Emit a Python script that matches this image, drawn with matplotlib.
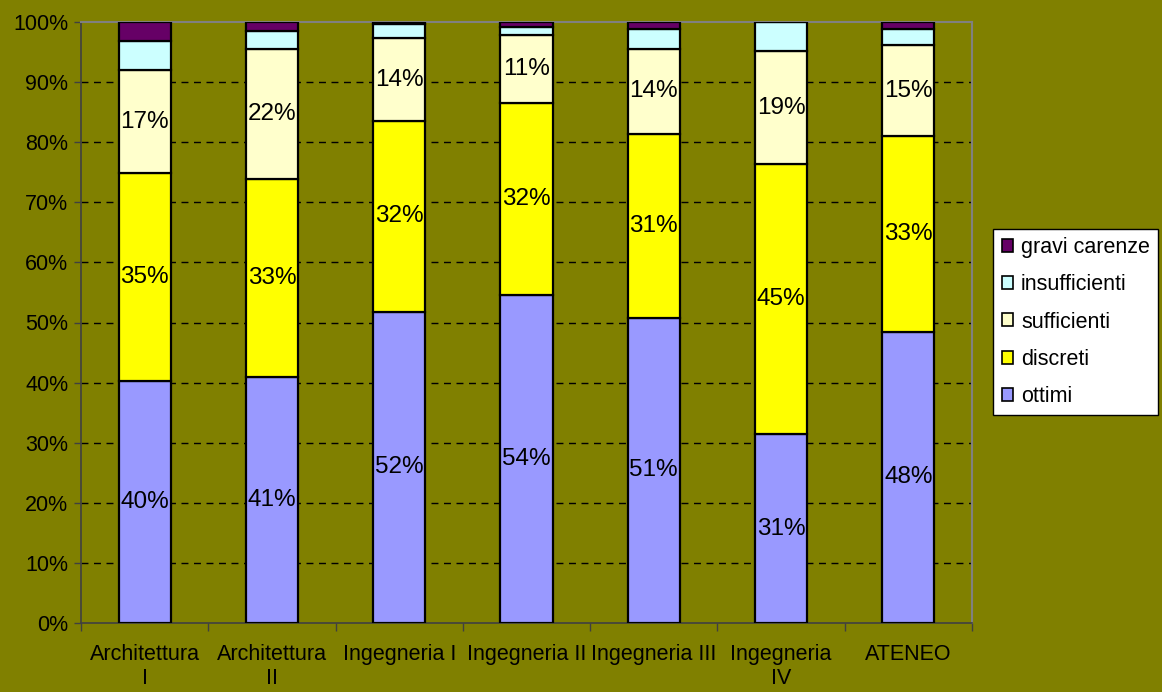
import numpy as np
import matplotlib
matplotlib.use("Agg")
import matplotlib.pyplot as plt
from matplotlib.patches import Patch

plt.rcParams["font.family"] = ["Liberation Sans", "DejaVu Sans"]

# Percentage of judgements per faculty, stacked bottom to top
faculties = [
    "Architettura\nI",
    "Architettura\nII",
    "Ingegneria I",
    "Ingegneria II",
    "Ingegneria III",
    "Ingegneria\nIV",
    "ATENEO",
]
ottimi = [40.2, 41.0, 51.8, 54.5, 50.8, 31.4, 48.5]
discreti = [34.6, 32.8, 31.7, 32.0, 30.6, 44.9, 32.6]
sufficienti = [17.2, 21.7, 13.8, 11.4, 14.1, 18.9, 15.0]
insufficienti = [4.9, 3.0, 2.4, 1.2, 3.4, 4.8, 2.8]
gravi_carenze = [3.1, 1.5, 0.3, 0.9, 1.1, 0.0, 1.1]

series = [
    ("ottimi", ottimi, "#9999FF", True),
    ("discreti", discreti, "#FFFF00", True),
    ("sufficienti", sufficienti, "#FFFFCC", True),
    ("insufficienti", insufficienti, "#CCFFFF", False),
    ("gravi carenze", gravi_carenze, "#660066", False),
]

bg = "#808000"
fs = 15.5
label_fs = 17.5

fig = plt.figure(figsize=(11.62, 6.92), dpi=100, facecolor=bg)
ax = fig.add_axes([81 / 1162, 1 - 623 / 692, (972 - 81) / 1162, (623 - 22) / 692])
ax.set_facecolor(bg)

x = np.arange(len(faculties))
bottom = np.zeros(len(faculties))
for name, vals, color, labelled in series:
    vals = np.array(vals)
    ax.bar(x, vals, width=0.41, bottom=bottom, color=color,
           edgecolor="black", linewidth=1.6, zorder=3)
    if labelled:
        for xi, b, v in zip(x, bottom, vals):
            ax.text(xi, b + v / 2, f"{v:.0f}%", ha="center", va="center",
                    fontsize=label_fs, color="black", zorder=4)
    bottom += vals

# y axis: 0-100% with dashed gridlines every 10%
ax.set_ylim(0, 100)
ax.set_yticks(np.arange(0, 101, 10))
ax.set_yticklabels([f"{v}%" for v in range(0, 101, 10)], fontsize=fs)
for v in range(10, 100, 10):
    ax.axhline(v, color="black", linewidth=1.0, dashes=(5, 4), zorder=1)

# x axis: ticks between categories, labels centred
ax.set_xlim(-0.5, len(faculties) - 0.5)
ax.set_xticks(np.arange(-0.5, len(faculties), 1.0))
ax.set_xticklabels([])
ax.set_xticks(x, minor=True)
ax.set_xticklabels(faculties, minor=True, fontsize=fs, linespacing=1.2)
ax.tick_params(axis="x", which="minor", length=0, pad=15)
ax.tick_params(axis="x", which="major", length=6, width=1, color="#404040", direction="out")
ax.tick_params(axis="y", length=5, width=1, color="#404040", direction="out", pad=4)

for side in ["left", "bottom"]:
    ax.spines[side].set_color("#404040")
    ax.spines[side].set_linewidth(1.2)
for side in ["top", "right"]:
    ax.spines[side].set_color("#808080")
    ax.spines[side].set_linewidth(1.5)

handles = [Patch(facecolor=c, edgecolor="black", linewidth=1.2, label=n)
           for n, _, c, _ in series][::-1]
leg = fig.legend(handles=handles, loc="center left",
                 bbox_to_anchor=(993 / 1162, 1 - 322 / 692),
                 fontsize=fs, frameon=True, fancybox=False, framealpha=1,
                 handlelength=0.55, handleheight=0.55, handletextpad=0.35,
                 labelspacing=0.75, borderpad=0.4, borderaxespad=0)
leg.get_frame().set_edgecolor("black")
leg.get_frame().set_linewidth(1.0)
leg.get_frame().set_facecolor("white")

fig.savefig("out.png", dpi=100, facecolor=bg)
